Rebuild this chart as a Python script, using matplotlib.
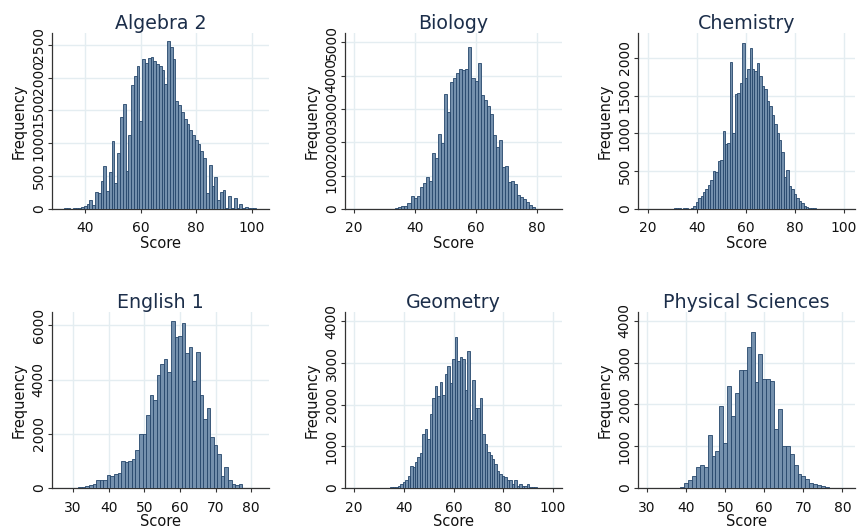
import numpy as np
import matplotlib
matplotlib.use("Agg")
import matplotlib.pyplot as plt

plt.rcParams['font.family'] = ['DejaVu Sans']

# ---------------- data (integer score bins, counts) ----------------
algebra_start = 33
algebra_counts = [10, 10, 5, 10, 10, 20, 30, 45, 70, 130, 60, 255, 250, 430, 650, 280,
                  560, 1030, 400, 855, 1400, 1600, 580, 1130, 1890, 2030, 2170, 1340,
                  2280, 2230, 2300, 2320, 2260, 2210, 2180, 2120, 1910, 2560, 2460, 2280,
                  1650, 1580, 1470, 1370, 1290, 1210, 1120, 1045, 985, 880, 780, 245,
                  670, 345, 485, 140, 255, 295, 20, 200, 15, 160, 10, 80, 20, 30, 10, 10, 10]

biology_start = 28
biology_counts = [15, 15, 0, 10, 10, 10, 20, 50, 90, 100, 190, 390, 320, 390, 650, 790,
                  950, 840, 1670, 1540, 2260, 1970, 3440, 2900, 3820, 3920, 4090, 4200,
                  4170, 4190, 4870, 3940, 3840, 4370, 3420, 3260, 3100, 2850, 2220, 1870,
                  2060, 1270, 1290, 820, 840, 750, 420, 360, 300, 200, 130, 60, 15, 10,
                  5, 5, 5, 10]

chemistry_start = 31
chemistry_counts = [10, 10, 10, 5, 10, 10, 5, 15, 40, 90, 150, 175, 230, 270, 315, 380,
                    500, 485, 640, 655, 1030, 865, 875, 1940, 1000, 1520, 1530, 1670, 2200,
                    1740, 1850, 2125, 1850, 1830, 1930, 1760, 1630, 1590, 1435, 1360, 1240,
                    1130, 1000, 920, 755, 430, 515, 300, 265, 200, 140, 110, 75, 45, 25,
                    15, 10, 8, 5]

english_start = 28
english_counts = [15, 15, 10, 15, 20, 40, 60, 100, 160, 280, 300, 300, 470, 430, 530, 560,
                  980, 960, 1000, 1080, 1390, 1980, 1980, 2710, 3440, 3250, 4150, 4580,
                  4760, 4270, 6140, 5560, 5600, 6080, 4970, 5210, 3960, 5000, 3440, 2550,
                  2950, 1880, 1570, 1260, 430, 770, 280, 160, 100, 160, 15, 10, 15, 10, 15]

geometry_start = 33
geometry_counts = [10, 10, 15, 15, 25, 50, 90, 135, 185, 290, 535, 500, 625, 745, 850,
                   1300, 1425, 1180, 1770, 2170, 2460, 2210, 2540, 2240, 2730, 2940, 2520,
                   3100, 3620, 3060, 3140, 3100, 2360, 3300, 1640, 2600, 1910, 1910, 2150,
                   1300, 1060, 870, 800, 700, 585, 420, 330, 280, 260, 200, 185, 105, 200,
                   60, 100, 50, 60, 100, 30, 20, 20]

physsci_start = 33
physsci_counts = [10, 0, 0, 0, 10, 10, 25, 120, 185, 290, 505, 545, 505, 1265, 770, 890,
                  1960, 1080, 2440, 1720, 2280, 2820, 2820, 3380, 3720, 2530, 3200, 2600,
                  2600, 2570, 1400, 1880, 1000, 1000, 810, 560, 345, 280, 225, 130, 90, 65,
                  40, 15, 10, 10, 10, 10, 10]

titles = ["Algebra 2", "Biology", "Chemistry", "English 1", "Geometry", "Physical Sciences"]
starts = [algebra_start, biology_start, chemistry_start, english_start, geometry_start, physsci_start]
counts = [algebra_counts, biology_counts, chemistry_counts, english_counts, geometry_counts, physsci_counts]
xticks = [[40, 60, 80, 100], [20, 40, 60, 80], [20, 40, 60, 80, 100],
          [30, 40, 50, 60, 70, 80], [20, 40, 60, 80, 100], [30, 40, 50, 60, 70, 80]]
yticks = [[0, 500, 1000, 1500, 2000, 2500], [0, 1000, 2000, 3000, 4000, 5000],
          [0, 500, 1000, 1500, 2000], [0, 2000, 4000, 6000],
          [0, 1000, 2000, 3000, 4000], [0, 1000, 2000, 3000, 4000]]
xlims = [(28, 106.2), (17, 88.2), (16, 104.5), (24.1, 85), (16.3, 103.7), (27.7, 83.2)]
ylims = [2680, 5280, 2330, 6490, 4225, 4210]

# ---------------- layout ----------------
W, H = 860, 531
fig = plt.figure(figsize=(W / 100, H / 100), dpi=100)
fig.patch.set_facecolor('white')

lefts = [52, 345, 638]
rows = [(33, 209), (312, 488)]
pw = 217

bar_face = '#7490ad'
bar_edge = '#25466b'
grid_c = '#e4edf1'
txt_c = '#111111'
title_c = '#1c2e4a'

for i in range(6):
    r, c = divmod(i, 3)
    top, bot = rows[r]
    ax = fig.add_axes([lefts[c] / W, 1 - bot / H, pw / W, (bot - top) / H])
    x = np.arange(starts[i], starts[i] + len(counts[i]))
    ax.bar(x, counts[i], width=1.0, align='center', color=bar_face,
           edgecolor=bar_edge, linewidth=0.6, zorder=3)
    ax.set_xlim(*xlims[i])
    ax.set_ylim(0, ylims[i])
    ax.set_xticks(xticks[i])
    ax.set_yticks(yticks[i])
    ax.grid(True, color=grid_c, linewidth=1.0, zorder=0)
    ax.set_axisbelow(True)
    for s in ['top', 'right']:
        ax.spines[s].set_visible(False)
    for s in ['left', 'bottom']:
        ax.spines[s].set_color('#333333')
        ax.spines[s].set_linewidth(0.9)
    ax.tick_params(axis='both', length=3, width=0.8, color='#333333',
                   labelsize=10, labelcolor=txt_c)
    ax.tick_params(axis='x', pad=6)
    ax.tick_params(axis='y', labelrotation=90, pad=1.5)
    for lab in ax.get_yticklabels():
        lab.set_va('center')
    ax.set_xlabel('Score', fontsize=10.5, color=txt_c, labelpad=0)
    ax.set_ylabel('Frequency', fontsize=10.5, color=txt_c, labelpad=3.5)
    ax.set_title(titles[i], fontsize=13.7, color=title_c, pad=2)

fig.savefig('out.png', dpi=100, facecolor='white')
